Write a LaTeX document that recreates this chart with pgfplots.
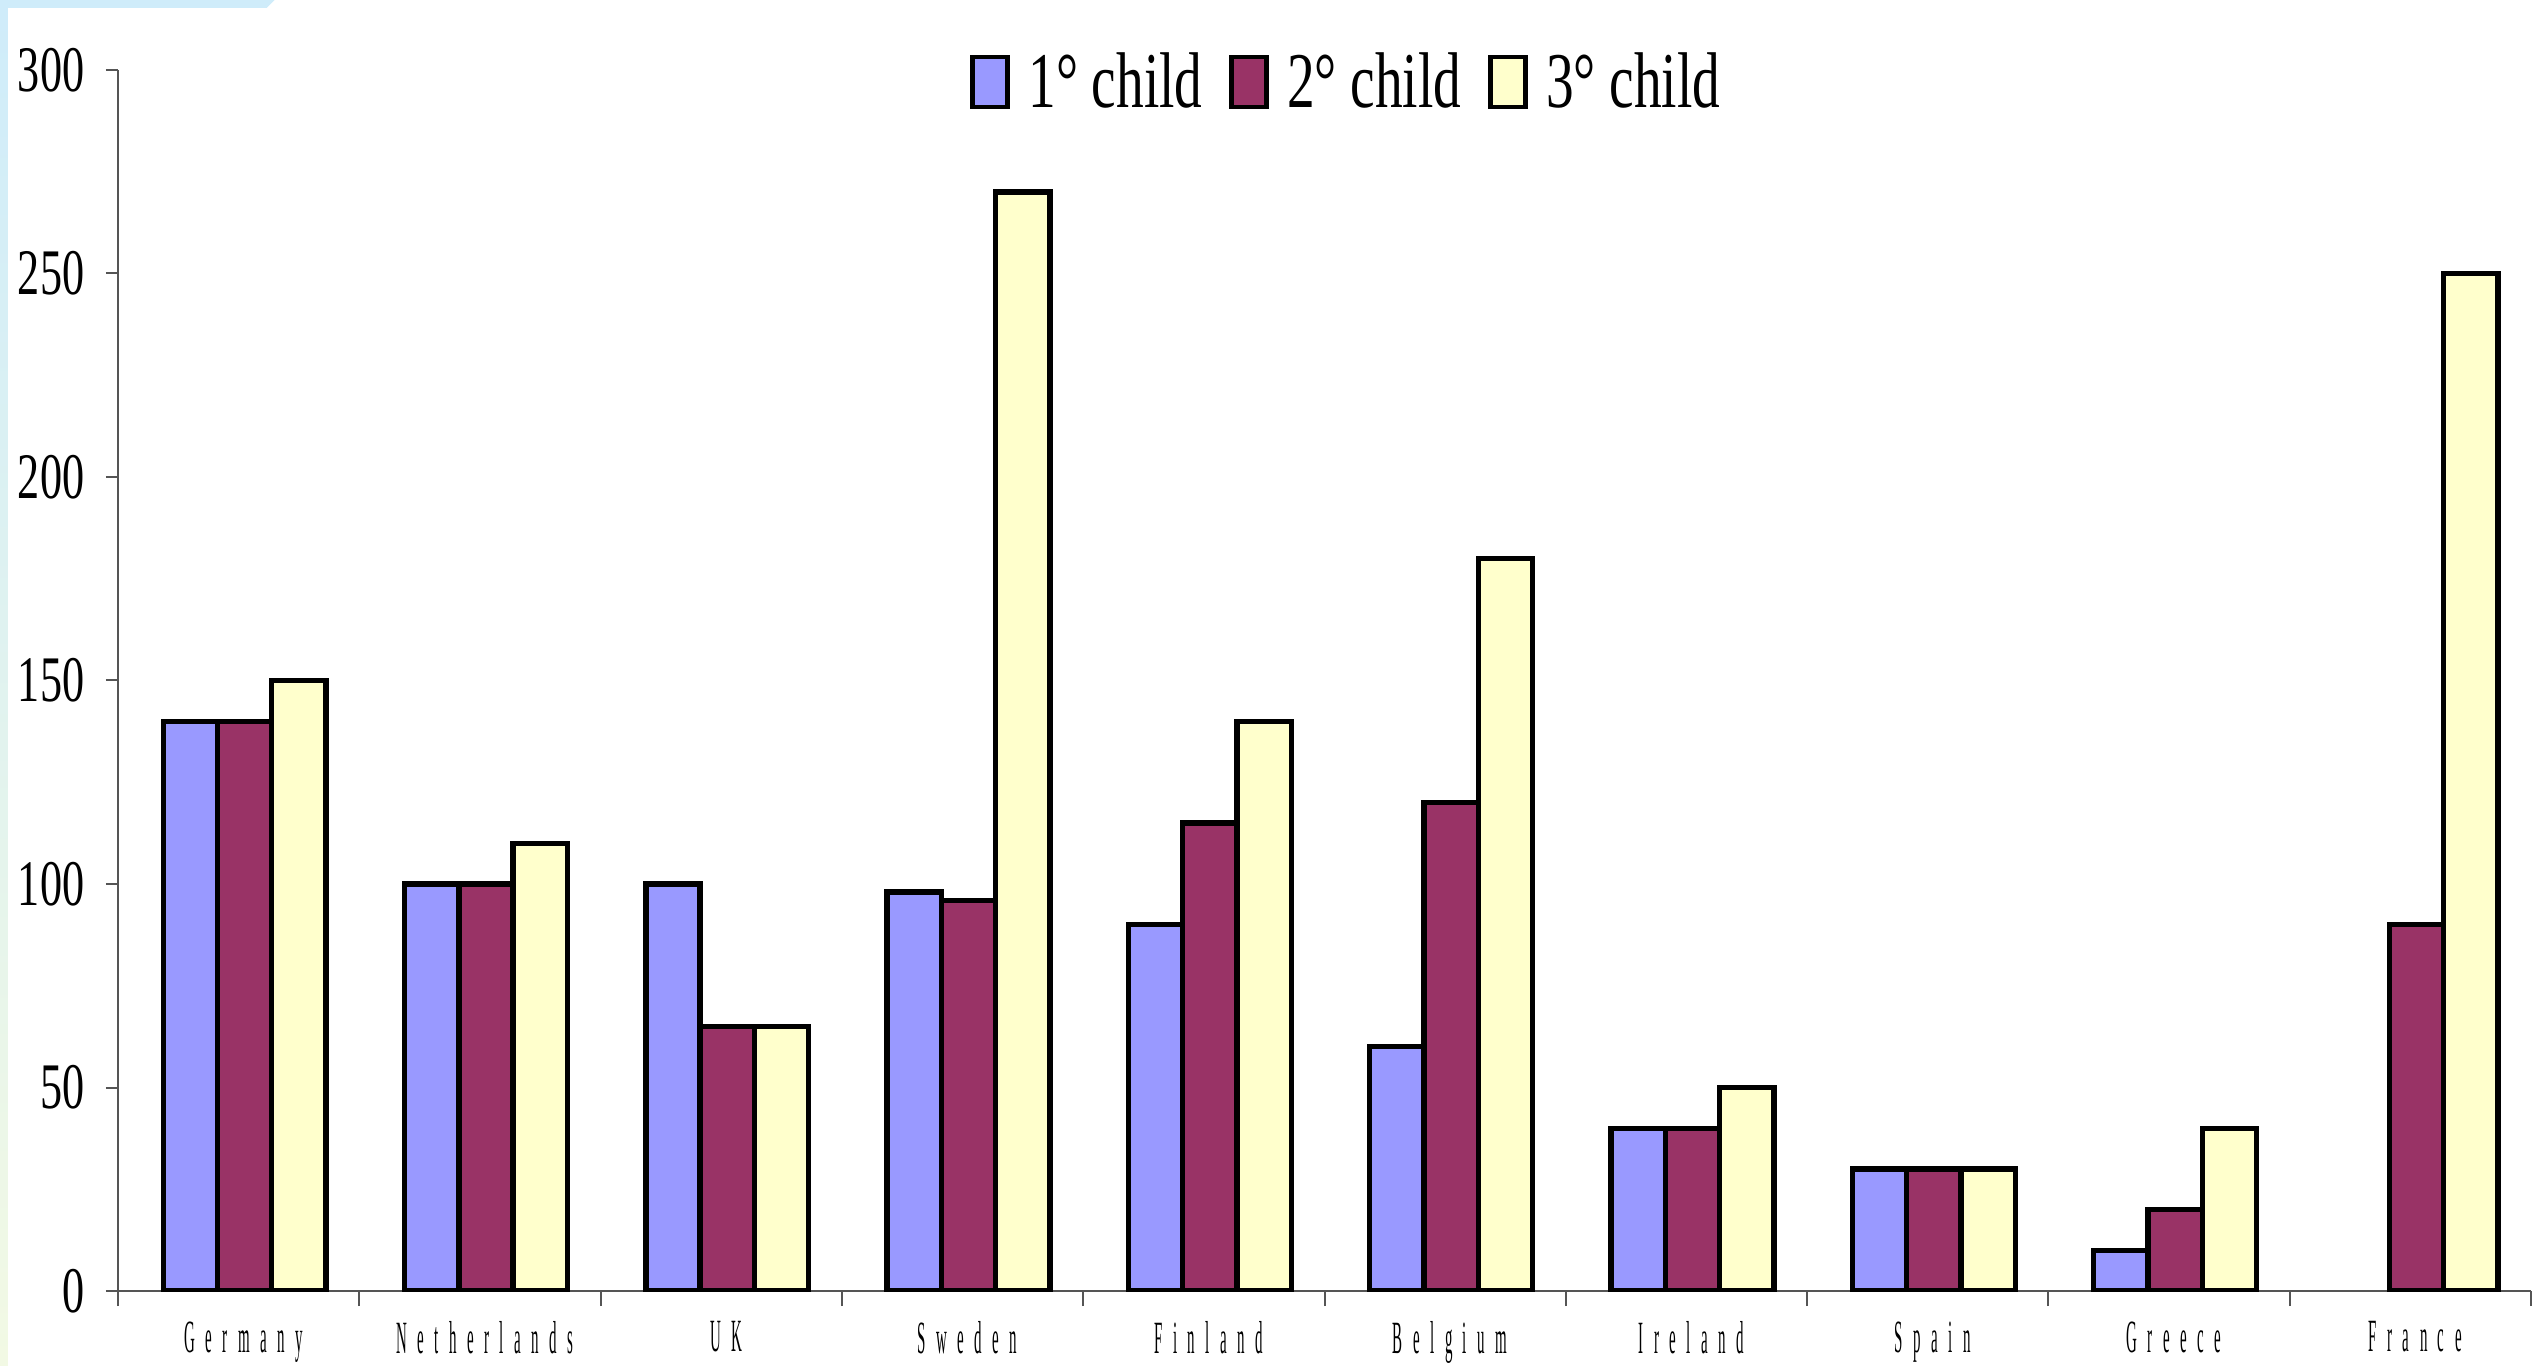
\documentclass[border=0pt]{standalone}
\usepackage{pgfplots}
\pgfplotsset{compat=1.18}
\usepackage{fontspec}
\setmainfont{Liberation Serif}
\definecolor{c1}{HTML}{9999FF}
\definecolor{c2}{HTML}{993366}
\definecolor{c3}{HTML}{FFFFCC}
\definecolor{bgblue}{HTML}{CFECFA}
\definecolor{bggreen}{HTML}{F2F9E4}
\definecolor{axc}{HTML}{555555}
\newcommand{\g}{\hspace{0.7em}}
\newcommand{\xl}[1]{\scalebox{0.34}[1.05]{#1}}
\begin{document}
\begin{tikzpicture}
\path[use as bounding box] (-35.4pt,-22.2pt) rectangle (726.9pt,387.3pt);
\shade[top color=bgblue, bottom color=bggreen] (-35.4pt,-22.2pt) rectangle (-33pt,387.3pt);
\fill[bgblue] (-35.4pt,387.3pt) -- (47pt,387.3pt) -- (44.6pt,384.9pt) -- (-35.4pt,384.9pt) -- cycle;
\begin{axis}[
  at={(0,0)}, anchor=south west, scale only axis,
  width=723.9pt, height=366.3pt,
  xmin=-0.5, xmax=9.5, ymin=0, ymax=300,
  axis x line=bottom, axis y line=left,
  axis line style={-, draw=axc, line width=0.6pt},
  ytick={0,50,...,300},
  xtick={0.02,1.02,...,9.02},
  minor xtick={-0.5,0.5,...,9.5},
  xticklabels={\xl{G\g e\g r\g m\g a\g n\g y},\xl{N\g e\g t\g h\g e\g r\g l\g a\g n\g d\g s},\xl{U\g K},\xl{S\g w\g e\g d\g e\g n},\xl{F\g i\g n\g l\g a\g n\g d},\xl{B\g e\g l\g g\g i\g u\g m},\xl{I\g r\g e\g l\g a\g n\g d},\xl{S\g p\g a\g i\g n},\xl{G\g r\g e\g e\g c\g e},\xl{F\g r\g a\g n\g c\g e}},
  tick align=outside,
  major tick length=3.6pt, minor tick length=4.5pt,
  major x tick style={draw=none},
  ytick style={draw=axc, line width=0.6pt},
  minor x tick style={draw=axc, line width=0.6pt},
  /pgf/number format/assume math mode=true,
  yticklabel style={font=\fontsize{19.5pt}{20pt}\selectfont, xshift=-3pt},
  yticklabel={\scalebox{0.68}[1]{\pgfmathprintnumber{\tick}}},
  xticklabel style={font=\fontsize{13.2pt}{14pt}\selectfont, yshift=-2pt},
  legend style={at={(0.51,1.026)}, anchor=north, draw=none, fill=none,
    legend columns=3, font=\fontsize{23.7pt}{24pt}\selectfont,
    /tikz/every even column/.style={column sep=6pt}},
  legend image code/.code={\draw[#1, line width=1.4pt] (0pt,-7.5pt) rectangle (10.5pt,7.5pt);},
]
\addplot[ybar, bar width=0.225, bar shift=-0.2, fill=c1, draw=black, line width=1.6pt]
  coordinates {(0,140) (1,100) (2,100) (3,98) (4,90) (5,60) (6,40) (7,30) (8,10)};
\addlegendentry{\hspace{3.5pt}\scalebox{0.7}[1]{1° child}}
\addplot[ybar, bar width=0.225, bar shift=0.025, fill=c2, draw=black, line width=1.6pt]
  coordinates {(0,140) (1,100) (2,65) (3,96) (4,115) (5,120) (6,40) (7,30) (8,20) (9,90)};
\addlegendentry{\hspace{3.5pt}\scalebox{0.7}[1]{2° child}}
\addplot[ybar, bar width=0.225, bar shift=0.25, fill=c3, draw=black, line width=1.6pt]
  coordinates {(0,150) (1,110) (2,65) (3,270) (4,140) (5,180) (6,50) (7,30) (8,40) (9,250)};
\addlegendentry{\hspace{3.5pt}\scalebox{0.7}[1]{3° child}}
\end{axis}
\end{tikzpicture}
\end{document}
